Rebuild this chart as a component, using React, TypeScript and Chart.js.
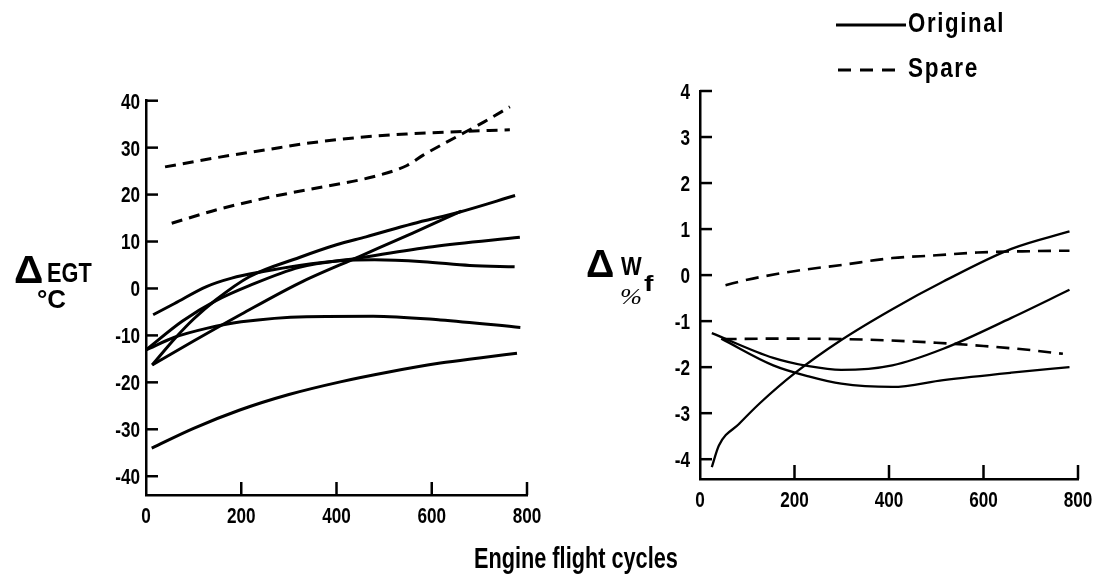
import React, { useEffect, useLayoutEffect, useRef } from "react";
import { Chart, registerables } from "chart.js";

Chart.register(...registerables);

// ---------- shared axis data ----------
const X_TICKS = [0, 200, 400, 600, 800];
const EGT_Y_TICKS = [-40, -30, -20, -10, 0, 10, 20, 30, 40];
const WF_Y_TICKS = [-4, -3, -2, -1, 0, 1, 2, 3, 4];

// ---------- ΔEGT (°C) panel ----------
// Spare engines (dashed)
const egtSpare1X = [40, 150, 250, 337, 450, 547, 652, 764];
const egtSpare1Y = [25.9, 27.9, 29.5, 30.9, 32.2, 32.9, 33.4, 33.8];
const egtSpare2X = [54, 150, 267, 380, 477, 548, 582, 652, 710, 764];
const egtSpare2Y = [13.9, 16.8, 19.6, 21.8, 23.8, 26.2, 28.4, 32.3, 35.5, 38.7];
// Original engines (solid)
const egtOrig1X = [12, 100, 197, 300, 408, 510, 618, 700, 779];
const egtOrig1Y = [-34, -29.8, -25.9, -22.6, -19.9, -17.8, -15.9, -14.8, -13.8];
const egtOrig2X = [0, 60, 127, 200, 337, 477, 618, 786];
const egtOrig2Y = [-13.1, -10.4, -8.5, -7.1, -6.0, -5.9, -6.7, -8.3];
const egtOrig3X = [15, 60, 127, 180, 246, 322, 408, 480, 582, 680, 774];
const egtOrig3Y = [-5.6, -3.2, 0.4, 2.2, 3.6, 4.9, 5.9, 6.1, 5.7, 4.9, 4.6];
const egtOrig4X = [0, 76, 147, 217, 322, 448, 602, 785];
const egtOrig4Y = [-13.1, -7, -2.6, 0.6, 4.5, 6.5, 8.9, 10.9];
const egtOrig5X = [13, 62, 100, 147, 217, 322, 400, 462, 560, 659, 775];
const egtOrig5Y = [-16.3, -10.5, -6.5, -2.4, 2.5, 6.6, 9.3, 11, 13.8, 16.3, 19.8];
const egtOrig6X = [13, 100, 200, 323, 448, 560, 662];
const egtOrig6Y = [-16.3, -11.2, -5.5, 1.2, 6.8, 11.8, 16.5];

// ---------- ΔWf (%) panel ----------
const wfSpare1X = [54, 100, 202, 300, 407, 500, 587, 700, 782];
const wfSpare1Y = [-0.22, -0.1, 0.09, 0.22, 0.37, 0.43, 0.49, 0.52, 0.53];
const wfSpare2X = [50, 150, 299, 400, 500, 600, 700, 768];
const wfSpare2Y = [-1.39, -1.38, -1.39, -1.42, -1.47, -1.54, -1.63, -1.71];
const wfOrig1X = [25, 40, 83, 126, 202, 299, 407, 515, 659, 782];
const wfOrig1Y = [-4.17, -3.7, -3.23, -2.79, -2.12, -1.41, -0.74, -0.14, 0.57, 0.95];
const wfOrig2X = [25, 155, 230, 299, 407, 515, 659, 782];
const wfOrig2Y = [-1.26, -1.8, -1.98, -2.06, -1.96, -1.6, -0.93, -0.32];
const wfOrig3X = [45, 155, 230, 299, 407, 515, 659, 782];
const wfOrig3Y = [-1.38, -1.96, -2.2, -2.36, -2.43, -2.28, -2.12, -2.0];

const LEGEND_LABELS = ["Original", "Spare"];

const SANS = '"Liberation Sans", Arial, Helvetica, sans-serif';

const pts = (xs: number[], ys: number[]) => xs.map((x, i) => ({ x, y: ys[i] }));

// inward tick marks + condensed tick labels (labels come from the scales' own ticks)
const axisDecor = {
  id: "axisDecor",
  afterDraw(chart: any, _args: any, opts: any) {
    const { ctx, chartArea, scales } = chart;
    ctx.save();
    ctx.strokeStyle = "#000";
    ctx.fillStyle = "#000";
    ctx.lineWidth = opts.width || 2.5;
    const size = opts.size;
    const sx = opts.sx;
    ctx.font = `bold ${size}px ${SANS}`;
    const cap = 0.716 * size;

    scales.y.ticks.forEach((t: any) => {
      const py = scales.y.getPixelForValue(t.value);
      ctx.beginPath();
      ctx.moveTo(chartArea.left, py);
      ctx.lineTo(chartArea.left + opts.yLen, py);
      ctx.stroke();
      const txt = String(t.label);
      const w = ctx.measureText(txt).width * sx;
      ctx.save();
      ctx.translate(chartArea.left - opts.yPad - w, py + cap / 2);
      ctx.scale(sx, 1);
      ctx.textAlign = "left";
      ctx.textBaseline = "alphabetic";
      ctx.fillText(txt, 0, 0);
      ctx.restore();
    });
    scales.x.ticks.forEach((t: any) => {
      const px = scales.x.getPixelForValue(t.value);
      if (t.value !== 0) {
        ctx.beginPath();
        ctx.moveTo(px, chartArea.bottom);
        ctx.lineTo(px, chartArea.bottom - opts.xLen);
        ctx.stroke();
      }
      const txt = String(t.label);
      ctx.save();
      ctx.translate(px, chartArea.bottom + opts.xPad + cap);
      ctx.scale(sx, 1);
      ctx.textAlign = "center";
      ctx.textBaseline = "alphabetic";
      ctx.fillText(txt, 0, 0);
      ctx.restore();
    });
    ctx.restore();
  },
};

function ds(label: string, xs: number[], ys: number[], dashed: boolean, width: number, dash: number[]) {
  return {
    label,
    data: pts(xs, ys),
    borderColor: "#000",
    borderWidth: width,
    borderDash: dashed ? dash : [],
    pointRadius: 0,
    fill: false,
    cubicInterpolationMode: "monotone" as const,
    clip: false as any,
  };
}

function makeOptions(
  yTicks: number[],
  yMin: number,
  yMax: number,
  pad: { left: number; top: number; right: number; bottom: number },
  decor: any
) {
  return {
    animation: false as const,
    responsive: false,
    events: [] as any[],
    layout: { padding: pad },
    plugins: {
      legend: { display: false },
      tooltip: { enabled: false },
      axisDecor: decor,
    },
    scales: {
      x: {
        type: "linear" as const,
        min: 0,
        max: 800,
        afterBuildTicks: (s: any) => {
          s.ticks = X_TICKS.map((v) => ({ value: v }));
        },
        afterFit: (s: any) => {
          s.height = 40;
        },
        grid: { display: false, drawTicks: false },
        border: { display: true, color: "#000", width: 2.5 },
        ticks: { display: false, autoSkip: false },
      },
      y: {
        type: "linear" as const,
        min: yMin,
        max: yMax,
        afterBuildTicks: (s: any) => {
          s.ticks = yTicks.map((v) => ({ value: v }));
        },
        afterFit: (s: any) => {
          s.width = 60;
        },
        grid: { display: false, drawTicks: false },
        border: { display: true, color: "#000", width: 2.5 },
        ticks: { display: false, autoSkip: false },
      },
    },
  };
}

// Real text label, condensed to a target width (measured after layout)
function Label(props: {
  text: string;
  left: number;
  baseline: number;
  size: number;
  width?: number;
  family?: string;
  weight?: string;
  italic?: boolean;
  spacing?: number;
  ascentRatio?: number;
}) {
  const ref = useRef<HTMLDivElement>(null);
  const ratio = props.ascentRatio ?? 0.8465;
  const top = props.baseline - ratio * props.size;
  useLayoutEffect(() => {
    const el = ref.current;
    if (!el || !props.width) return;
    const apply = () => {
      el.style.transform = "none";
      const w = el.offsetWidth;
      if (w > 0) el.style.transform = `scaleX(${props.width! / w})`;
    };
    apply();
    if ((document as any).fonts && (document as any).fonts.ready) {
      (document as any).fonts.ready.then(apply);
    }
  }, [props.width, props.text, props.size]);
  return (
    <div
      ref={ref}
      style={{
        position: "absolute",
        left: props.left,
        top,
        fontFamily: props.family ?? SANS,
        fontSize: props.size,
        fontWeight: (props.weight ?? "bold") as any,
        fontStyle: props.italic ? "italic" : "normal",
        lineHeight: `${props.size}px`,
        whiteSpace: "nowrap",
        letterSpacing: props.spacing ? `${props.spacing}px` : undefined,
        transformOrigin: "left top",
        color: "#000",
      }}
    >
      {props.text}
    </div>
  );
}

export default function App() {
  const leftRef = useRef<HTMLCanvasElement>(null);
  const rightRef = useRef<HTMLCanvasElement>(null);

  useEffect(() => {
    const dashL = [11, 7];
    const left = new Chart(leftRef.current as HTMLCanvasElement, {
      type: "line",
      data: {
        datasets: [
          ds("Spare", egtSpare1X, egtSpare1Y, true, 3, dashL),
          ds("Spare", egtSpare2X, egtSpare2Y, true, 3, dashL),
          ds("Original", egtOrig1X, egtOrig1Y, false, 3, dashL),
          ds("Original", egtOrig2X, egtOrig2Y, false, 3, dashL),
          ds("Original", egtOrig3X, egtOrig3Y, false, 3, dashL),
          ds("Original", egtOrig4X, egtOrig4Y, false, 3, dashL),
          ds("Original", egtOrig5X, egtOrig5Y, false, 3, dashL),
          ds("Original", egtOrig6X, egtOrig6Y, false, 3, dashL),
        ],
      },
      options: makeOptions(
        EGT_Y_TICKS,
        -44,
        40,
        { left: 86, top: 100.7, right: 580, bottom: 45 },
        { yLen: 12, xLen: 13, width: 2.5, size: 22, sx: 0.78, yPad: 6, xPad: 12 }
      ) as any,
      plugins: [axisDecor],
    });

    const dashR = [13, 8];
    const right = new Chart(rightRef.current as HTMLCanvasElement, {
      type: "line",
      data: {
        datasets: [
          ds("Spare", wfSpare1X, wfSpare1Y, true, 2.6, dashR),
          ds("Spare", wfSpare2X, wfSpare2Y, true, 2.6, dashR),
          ds("Original", wfOrig1X, wfOrig1Y, false, 2.3, dashR),
          ds("Original", wfOrig2X, wfOrig2Y, false, 2.3, dashR),
          ds("Original", wfOrig3X, wfOrig3Y, false, 2.3, dashR),
        ],
      },
      options: makeOptions(
        WF_Y_TICKS,
        -4.43,
        4,
        { left: 640, top: 91, right: 29, bottom: 61 },
        { yLen: 12, xLen: 14, width: 2.5, size: 22, sx: 0.78, yPad: 10, xPad: 12 }
      ) as any,
      plugins: [axisDecor],
    });

    return () => {
      left.destroy();
      right.destroy();
    };
  }, []);

  return (
    <div
      style={{
        position: "absolute",
        left: 0,
        top: 0,
        width: 1107,
        height: 580,
        background: "#fff",
        overflow: "hidden",
      }}
    >
      <canvas ref={leftRef} width={1107} height={580} style={{ position: "absolute", left: 0, top: 0 }} />
      <canvas ref={rightRef} width={1107} height={580} style={{ position: "absolute", left: 0, top: 0 }} />

      {/* ΔEGT °C */}
      <Label text="Δ" left={14} baseline={283} size={38} width={29} />
      <Label text="EGT" left={47} baseline={283} size={28} width={45} />
      <Label text="°C" left={37} baseline={308} size={25} width={29} />

      {/* ΔWf % */}
      <Label text="Δ" left={586} baseline={277} size={38} width={28} />
      <Label text="W" left={621} baseline={275} size={25} width={21} />
      <Label text="f" left={644} baseline={292} size={22} width={9} />
      <Label
        text="%"
        left={620}
        baseline={304}
        size={24}
        width={22}
        family={'"Liberation Serif", serif'}
        weight="normal"
        italic
        ascentRatio={0.8375}
      />

      {/* x axis title */}
      <Label text="Engine flight cycles" left={474} baseline={568} size={30} width={204} />

      {/* legend */}
      <svg
        width={90}
        height={90}
        style={{ position: "absolute", left: 830, top: 0 }}
        viewBox="0 0 90 90"
      >
        <line x1={6} y1={25} x2={76} y2={25} stroke="#000" strokeWidth={3} />
        <line x1={8} y1={70} x2={68} y2={70} stroke="#000" strokeWidth={3} strokeDasharray="13 9" />
      </svg>
      <Label text={LEGEND_LABELS[0]} left={908} baseline={33} size={27} width={97} spacing={2} />
      <Label text={LEGEND_LABELS[1]} left={908} baseline={78} size={27} width={71} spacing={2} />
    </div>
  );
}
